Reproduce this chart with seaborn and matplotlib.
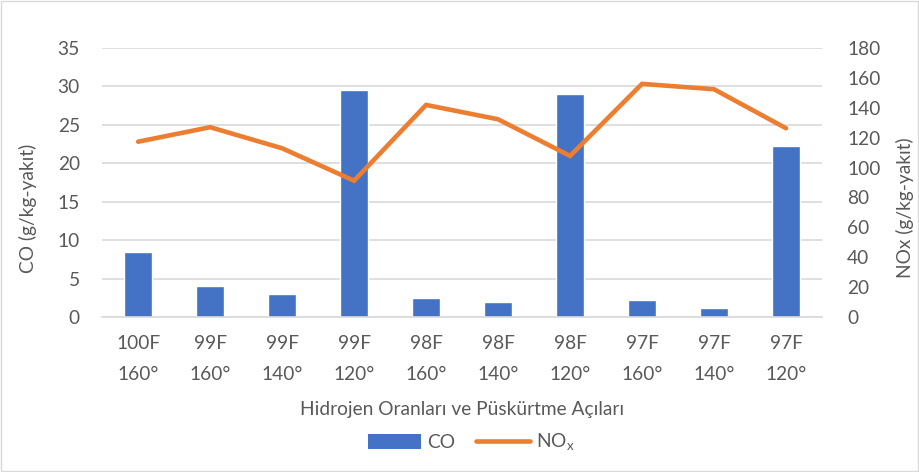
import numpy as np
import pandas as pd
import seaborn as sns
import matplotlib.pyplot as plt
from matplotlib.patches import Patch, Rectangle
from matplotlib.lines import Line2D

# data
categories = ['100F\n160°', '99F\n160°', '99F\n140°', '99F\n120°', '98F\n160°',
              '98F\n140°', '98F\n120°', '97F\n160°', '97F\n140°', '97F\n120°']
co = [8.5, 4.0, 3.0, 29.6, 2.5, 2.0, 29.0, 2.2, 1.2, 22.3]
nox = [117.3, 127.0, 112.9, 91.2, 141.9, 132.3, 107.8, 156.0, 152.4, 126.3]

blue = '#4472C4'
orange = '#ED7D31'
grey_txt = '#595959'
grid_col = '#D9D9D9'
fs = 13.8

sns.set_theme(style='white')
plt.rcParams['font.family'] = ['Lato', 'DejaVu Sans']
plt.rcParams['mathtext.fontset'] = 'custom'
plt.rcParams['mathtext.rm'] = 'Lato'

df = pd.DataFrame({'kat': categories, 'CO': co, 'NOx': nox, 'pos': np.arange(len(categories))})

fig = plt.figure(figsize=(9.2, 4.72), dpi=100)
ax = fig.add_axes([0.111, 0.3284, 0.7825, 0.5699])

sns.barplot(data=df, x='kat', y='CO', color=blue, width=0.39, saturation=1, ax=ax)
ax.set_xlim(-0.5, len(categories) - 0.5)
ax.set_ylim(0, 35)
ax.set_yticks(np.arange(0, 36, 5))
ax.yaxis.grid(True, color=grid_col, linewidth=1.2)
ax.set_axisbelow(True)
for s in ['top', 'right', 'left']:
    ax.spines[s].set_visible(False)
ax.spines['bottom'].set_color(grid_col)
ax.spines['bottom'].set_linewidth(1.2)
ax.tick_params(axis='x', length=0, pad=13, labelsize=fs, labelcolor=grey_txt)
ax.tick_params(axis='y', length=0, pad=16, labelsize=fs, labelcolor=grey_txt)
for lab in ax.get_xticklabels():
    lab.set_linespacing(2.0)
ax.set_xlabel('Hidrojen Oranları ve Püskürtme Açıları', fontsize=fs, color=grey_txt)
ax.xaxis.set_label_coords(0.5, -0.312)
ax.set_ylabel('CO (g/kg-yakıt)', fontsize=fs, color=grey_txt)
ax.yaxis.set_label_coords(-0.090, 0.405)

ax2 = ax.twinx()
sns.lineplot(data=df, x='pos', y='NOx', color=orange, linewidth=3.3, ax=ax2,
             solid_capstyle='round', solid_joinstyle='miter')
ax2.set_ylim(0, 180)
ax2.set_yticks(np.arange(0, 181, 20))
for s in ['top', 'right', 'left', 'bottom']:
    ax2.spines[s].set_visible(False)
ax2.tick_params(axis='y', length=0, pad=18, labelsize=fs, labelcolor=grey_txt)
ax2.set_ylabel('NOx (g/kg-yakıt)', fontsize=fs, color=grey_txt)
ax2.yaxis.set_label_coords(1.103, 0.405)
ax2.set_xlim(-0.5, len(categories) - 0.5)

handles = [Patch(facecolor=blue, edgecolor='none'),
           Line2D([0], [0], color=orange, linewidth=3.3, solid_capstyle='round')]
fig.legend(handles, ['CO', r'NO$_\mathregular{x}$'], loc='center', bbox_to_anchor=(0.512, 0.062),
           ncol=2, frameon=False, fontsize=fs, labelcolor=grey_txt,
           handlelength=2.8, handleheight=0.8, columnspacing=1.1, handletextpad=0.3)

fig.patches.append(Rectangle((0.001, 0.002), 0.997, 0.995, transform=fig.transFigure,
                             fill=False, edgecolor=grid_col, linewidth=1))

fig.savefig('out.png', dpi=100)
